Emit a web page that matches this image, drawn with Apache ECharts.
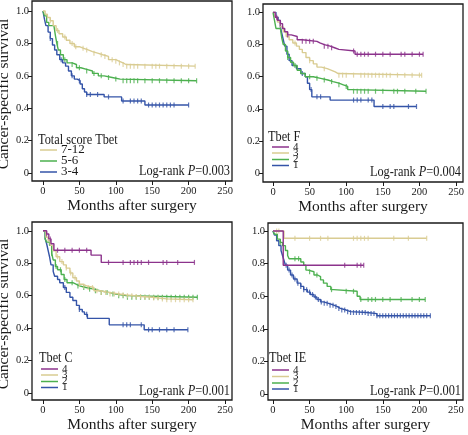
<!DOCTYPE html>
<html><head><meta charset="utf-8">
<script src="https://cdn.jsdelivr.net/npm/echarts@6/dist/echarts.min.js"></script>
<style>html,body{margin:0;padding:0;background:#fff}#c{width:468px;height:435px}</style>
</head><body><div id="c"></div>
<script>
// ---------- DATA ----------
const xTicks = [0, 50, 100, 150, 200, 250];
const yTicks = [0, 0.2, 0.4, 0.6, 0.8, 1.0];
const yTickLabels = ['0', '0.2', '0.4', '0.6', '0.8', '1.0'];
const xTitle = 'Months after surgery';
const yTitle = 'Cancer-specific survival';

// Panel A: Total score Tbet
const titleA = 'Total score Tbet';
const groupsA = ['7-12', '5-6', '3-4'];
const pA = '0.003';
const a_712 = [[0,1],[3,0.98],[6,0.96],[10,0.94],[14,0.91],[18,0.88],[22,0.86],[27,0.84],[32,0.82],[37,0.80],[43,0.78],[50,0.77],[56,0.76],[62,0.75],[68,0.74],[75,0.73],[82,0.72],[90,0.70],[100,0.69],[105,0.68],[110,0.67],[114,0.66],[209,0.66]];
const a_56 = [[0,1],[2,0.97],[5,0.93],[8,0.91],[15,0.90],[17,0.85],[19,0.80],[21,0.76],[24,0.73],[28,0.70],[33,0.68],[40,0.67],[46,0.65],[52,0.64],[60,0.63],[68,0.615],[76,0.60],[84,0.59],[95,0.58],[106,0.57],[211,0.57]];
const a_34 = [[0,1],[1,0.975],[2,0.95],[4,0.91],[7,0.87],[10,0.83],[13,0.79],[16,0.76],[19,0.73],[23,0.70],[27,0.68],[31,0.66],[35,0.63],[39,0.60],[43,0.58],[47,0.57],[51,0.55],[54,0.52],[57,0.50],[60,0.485],[84,0.47],[108,0.445],[140,0.42],[200,0.42]];
const a_712_cens = [10,20,30,40,45,55,60,70,80,85,95,100,105,110,115,120,125,130,140,150,155,160,170,180,190,200,209];
const a_56_cens = [20,30,40,50,60,70,80,90,100,110,115,120,125,130,140,150,160,170,180,190,200,211];
const a_34_cens = [10,25,40,50,60,65,75,90,110,120,125,130,135,145,150,155,160,165,170,175,180,200];

// Panel B: Tbet F
const titleB = 'Tbet F';
const groupsB = ['4', '3', '2', '1'];
const pB = '0.004';
const b_4 = [[0,1],[3,0.97],[6,0.95],[10,0.93],[13,0.90],[16,0.88],[20,0.86],[25,0.85],[33,0.83],[40,0.82],[60,0.81],[64,0.80],[70,0.79],[78,0.78],[84,0.77],[90,0.76],[112,0.74],[205,0.74]];
const b_3 = [[0,1],[3,0.97],[6,0.94],[10,0.91],[14,0.88],[18,0.85],[22,0.83],[27,0.81],[32,0.79],[36,0.77],[40,0.75],[45,0.72],[50,0.70],[55,0.68],[60,0.66],[66,0.65],[74,0.64],[80,0.63],[85,0.62],[89,0.61],[203,0.61]];
const b_2 = [[0,1],[2,0.95],[4,0.90],[10,0.89],[12,0.84],[14,0.80],[17,0.76],[20,0.72],[24,0.69],[28,0.67],[33,0.64],[38,0.62],[44,0.60],[55,0.59],[65,0.58],[75,0.57],[82,0.56],[90,0.55],[96,0.54],[102,0.52],[107,0.51],[209,0.51]];
const b_1 = [[0,1],[4,0.97],[7,0.95],[10,0.91],[12,0.87],[14,0.83],[16,0.79],[19,0.74],[22,0.70],[26,0.67],[32,0.65],[38,0.62],[44,0.60],[47,0.56],[50,0.52],[53,0.475],[78,0.455],[138,0.415],[196,0.415]];
const b_4_cens = [5,10,20,40,45,50,55,70,75,80,110,115,120,125,130,140,150,160,175,180,190,200,205];
const b_3_cens = [30,50,70,90,95,100,110,120,125,130,135,140,145,150,155,160,170,180,190,200,203];
const b_2_cens = [20,30,50,60,70,80,90,100,110,115,120,125,130,140,150,165,170,180,195,209];
const b_1_cens = [20,40,52,60,65,110,115,120,130,135,150,160,165,185,196];

// Panel C: Tbet C
const titleC = 'Tbet C';
const groupsC = ['4', '3', '2', '1'];
const pC = '0.001';
const c_4 = [[0,1],[5,0.98],[8,0.95],[11,0.92],[15,0.88],[66,0.85],[80,0.805],[208,0.805]];
const c_3 = [[0,1],[4,0.96],[7,0.94],[10,0.91],[14,0.876],[18,0.84],[23,0.81],[28,0.79],[32,0.77],[37,0.74],[41,0.71],[46,0.69],[50,0.67],[55,0.66],[60,0.65],[70,0.63],[78,0.62],[90,0.61],[105,0.605],[114,0.60],[125,0.595],[135,0.59],[150,0.585],[160,0.58],[170,0.575],[206,0.575]];
const c_2 = [[0,1],[3,0.95],[5,0.93],[9,0.91],[12,0.86],[14,0.82],[17,0.78],[20,0.76],[25,0.73],[29,0.70],[33,0.68],[41,0.67],[46,0.66],[50,0.65],[59,0.64],[70,0.63],[78,0.62],[90,0.61],[100,0.60],[114,0.59],[212,0.59]];
const c_1 = [[0,1],[3,0.95],[5,0.92],[7,0.88],[9,0.84],[11,0.79],[14,0.75],[16,0.72],[20,0.70],[23,0.68],[28,0.65],[32,0.62],[37,0.59],[41,0.57],[46,0.54],[50,0.515],[54,0.50],[57,0.485],[61,0.46],[91,0.42],[139,0.39],[199,0.39]];
const c_4_cens = [5,10,20,30,40,50,60,90,110,120,125,130,135,145,165,170,185,208];
const c_3_cens = [20,26,32,38,44,50,56,62,68,74,80,86,92,98,104,110,116,122,128,134,140,146,152,158,164,170,176,182,188,194,200,206];
const c_2_cens = [12,18,24,30,40,48,56,64,72,80,88,96,104,110,116,122,128,134,140,146,152,158,164,170,176,182,188,194,200,206,212];
const c_1_cens = [30,50,60,110,115,120,135,145,150,160,170,180,199];

// Panel D: Tbet IE
const titleD = 'Tbet IE';
const groupsD = ['4', '3', '2', '1'];
const pD = '0.001';
const d_4 = [[0,1],[14,0.79],[124,0.79]];
const d_3 = [[0,1],[15,0.955],[210,0.955]];
const d_2 = [[0,1],[2,0.98],[6,0.95],[10,0.93],[13,0.91],[17,0.88],[20,0.85],[22,0.83],[38,0.81],[42,0.79],[45,0.76],[48,0.75],[56,0.73],[61,0.72],[65,0.70],[69,0.68],[74,0.66],[79,0.64],[83,0.63],[115,0.60],[119,0.58],[208,0.58]];
const d_1 = [[0,1],[2,0.975],[5,0.94],[8,0.91],[11,0.88],[13,0.85],[15,0.82],[17,0.79],[20,0.76],[24,0.73],[28,0.705],[33,0.68],[38,0.66],[42,0.64],[47,0.625],[51,0.61],[56,0.595],[60,0.58],[65,0.565],[69,0.556],[76,0.545],[83,0.536],[88,0.525],[92,0.515],[100,0.505],[106,0.50],[128,0.493],[142,0.48],[215,0.48]];
const d_4_cens = [98,115,120,124];
const d_3_cens = [5,8,30,50,65,75,110,115,120,125,130,165,185,210];
const d_2_cens = [10,30,35,50,60,80,100,110,120,130,135,140,150,160,175,190,200,208];
const d_1_cens = [18,22,26,30,34,38,42,46,50,54,58,62,66,70,74,78,82,86,90,94,98,102,106,110,114,118,122,126,130,134,138,142,146,150,154,158,162,166,170,174,178,182,186,190,194,198,202,206,210,215];

// ---------- STYLE ----------
const COL = { purple:'#8c338c', tan:'#d9cc92', green:'#4cb04f', blue:'#3454a8' };
const SERIF = '"Liberation Serif","Times New Roman",serif';
const INK = '#1a1a1a';

const panels = [
  { title:titleA, groups:groupsA, colors:[COL.tan,COL.green,COL.blue], curves:[a_712,a_56,a_34], cens:[a_712_cens,a_56_cens,a_34_cens], p:pA,
    grid:{left:32,top:1,width:200,height:180}, x:[-15.1,259.6], y:[-0.049,1.062], yName:true,
    leg:{tx:38,ty:140,lx:40,ly:[150,161,172],fs:13,ts:15}, pr:{x:230,y:171} },
  { title:titleB, groups:groupsB, colors:[COL.purple,COL.tan,COL.green,COL.blue], curves:[b_4,b_3,b_2,b_1], cens:[b_4_cens,b_3_cens,b_2_cens,b_1_cens], p:pB,
    grid:{left:263,top:4,width:200,height:178}, x:[-13.7,259.5], y:[-0.054,1.052], yName:false,
    leg:{tx:268,ty:137,lx:272,ly:[147,153,159.5,165.5],fs:11,ts:15}, pr:{x:461,y:172} },
  { title:titleC, groups:groupsC, colors:[COL.purple,COL.tan,COL.green,COL.blue], curves:[c_4,c_3,c_2,c_1], cens:[c_4_cens,c_3_cens,c_2_cens,c_1_cens], p:pC,
    grid:{left:32,top:222,width:200,height:178}, x:[-15.1,259.6], y:[-0.043,1.054], yName:true,
    leg:{tx:39,ty:358,lx:41,ly:[369,375,381.5,387.5],fs:11,ts:15}, pr:{x:230,y:391.5} },
  { title:titleD, groups:groupsD, colors:[COL.purple,COL.tan,COL.green,COL.blue], curves:[d_4,d_3,d_2,d_1], cens:[d_4_cens,d_3_cens,d_2_cens,d_1_cens], p:pD,
    grid:{left:268,top:223,width:195,height:177}, x:[-6.8,259.6], y:[-0.037,1.049], yName:false,
    leg:{tx:269,ty:358,lx:272,ly:[370,376.5,383,389],fs:11,ts:15}, pr:{x:461,y:391.5} }
];

function sAt(curve, t) {
  let s = curve[0][1];
  for (const [x, y] of curve) { if (x <= t) s = y; else break; }
  return s;
}

const grids = [], xAxes = [], yAxes = [], series = [], graphics = [];
panels.forEach((P, i) => {
  grids.push(Object.assign({ show:true, borderColor:INK, borderWidth:1.3, backgroundColor:'transparent', outerBoundsMode:'none', containLabel:false }, P.grid));
  xAxes.push({
    type:'value', gridIndex:i, min:P.x[0], max:P.x[1], position:'bottom',
    axisLine:{show:false, onZero:false}, splitLine:{show:false},
    axisTick:{show:true, inside:false, length:4, customValues:xTicks, lineStyle:{color:INK, width:1}},
    axisLabel:{customValues:xTicks, margin:5, fontFamily:SERIF, fontSize:10.5, color:INK},
    name:xTitle, nameLocation:'middle', nameGap:14,
    nameTextStyle:{fontFamily:SERIF, fontSize:15.5, color:INK}
  });
  yAxes.push({
    type:'value', gridIndex:i, min:P.y[0], max:P.y[1], position:'left',
    axisLine:{show:false, onZero:false}, splitLine:{show:false},
    axisTick:{show:true, inside:false, length:4, customValues:yTicks, lineStyle:{color:INK, width:1}},
    axisLabel:{customValues:yTicks, margin:3, fontFamily:SERIF, fontSize:10.5, color:INK,
      formatter: v => { const k = yTicks.findIndex(t => Math.abs(t - v) < 1e-6); return k >= 0 ? yTickLabels[k] : ''; }},
    name: P.yName ? yTitle : '', nameLocation:'middle', nameGap:14,
    nameTextStyle:{fontFamily:SERIF, fontSize:15.5, color:INK, padding:[0,0,0,-6]}
  });
  P.curves.forEach((c, k) => {
    series.push({ type:'line', xAxisIndex:i, yAxisIndex:i, data:c, step:'end', showSymbol:false, silent:true,
      lineStyle:{color:P.colors[k], width:1.4}, z:2+(P.curves.length-k) });
    series.push({ type:'scatter', xAxisIndex:i, yAxisIndex:i, data:P.cens[k].map(t => [t, sAt(c, t)]),
      symbol:'rect', symbolSize:[1.2,5], itemStyle:{color:P.colors[k]}, silent:true, z:2+(P.curves.length-k) });
  });
  // legend (title + line samples + labels)
  graphics.push({ type:'text', x:P.leg.tx, y:P.leg.ty, scaleX:0.82, originX:0, originY:0,
    style:{ text:P.title, font:`${P.leg.ts}px ${SERIF}`, fill:INK, verticalAlign:'middle', align:'left' } });
  P.groups.forEach((g, k) => {
    graphics.push({ type:'line', shape:{ x1:P.leg.lx, y1:P.leg.ly[k], x2:P.leg.lx+17, y2:P.leg.ly[k] }, style:{ stroke:P.colors[k], lineWidth:1.5 } });
    graphics.push({ type:'text', x:P.leg.lx+21, y:P.leg.ly[k], style:{ text:g, font:`${P.leg.fs}px ${SERIF}`, fill:INK, verticalAlign:'middle', align:'left' } });
  });
  graphics.push({ type:'text', x:P.pr.x, y:P.pr.y, scaleX:0.88, originX:0, originY:0, style:{
    text:'Log-rank {i|P}=' + P.p, font:`14px ${SERIF}`, fill:INK, align:'right', verticalAlign:'middle',
    rich:{ i:{ fontStyle:'italic', fontFamily:SERIF, fontSize:14, fill:INK } } } });
});

const chart = echarts.init(document.getElementById('c'), null, { renderer:'canvas' });
chart.setOption({
  animation:false, backgroundColor:'#fff',
  grid:grids, xAxis:xAxes, yAxis:yAxes, series:series, graphic:graphics
});
</script>
</body></html>
